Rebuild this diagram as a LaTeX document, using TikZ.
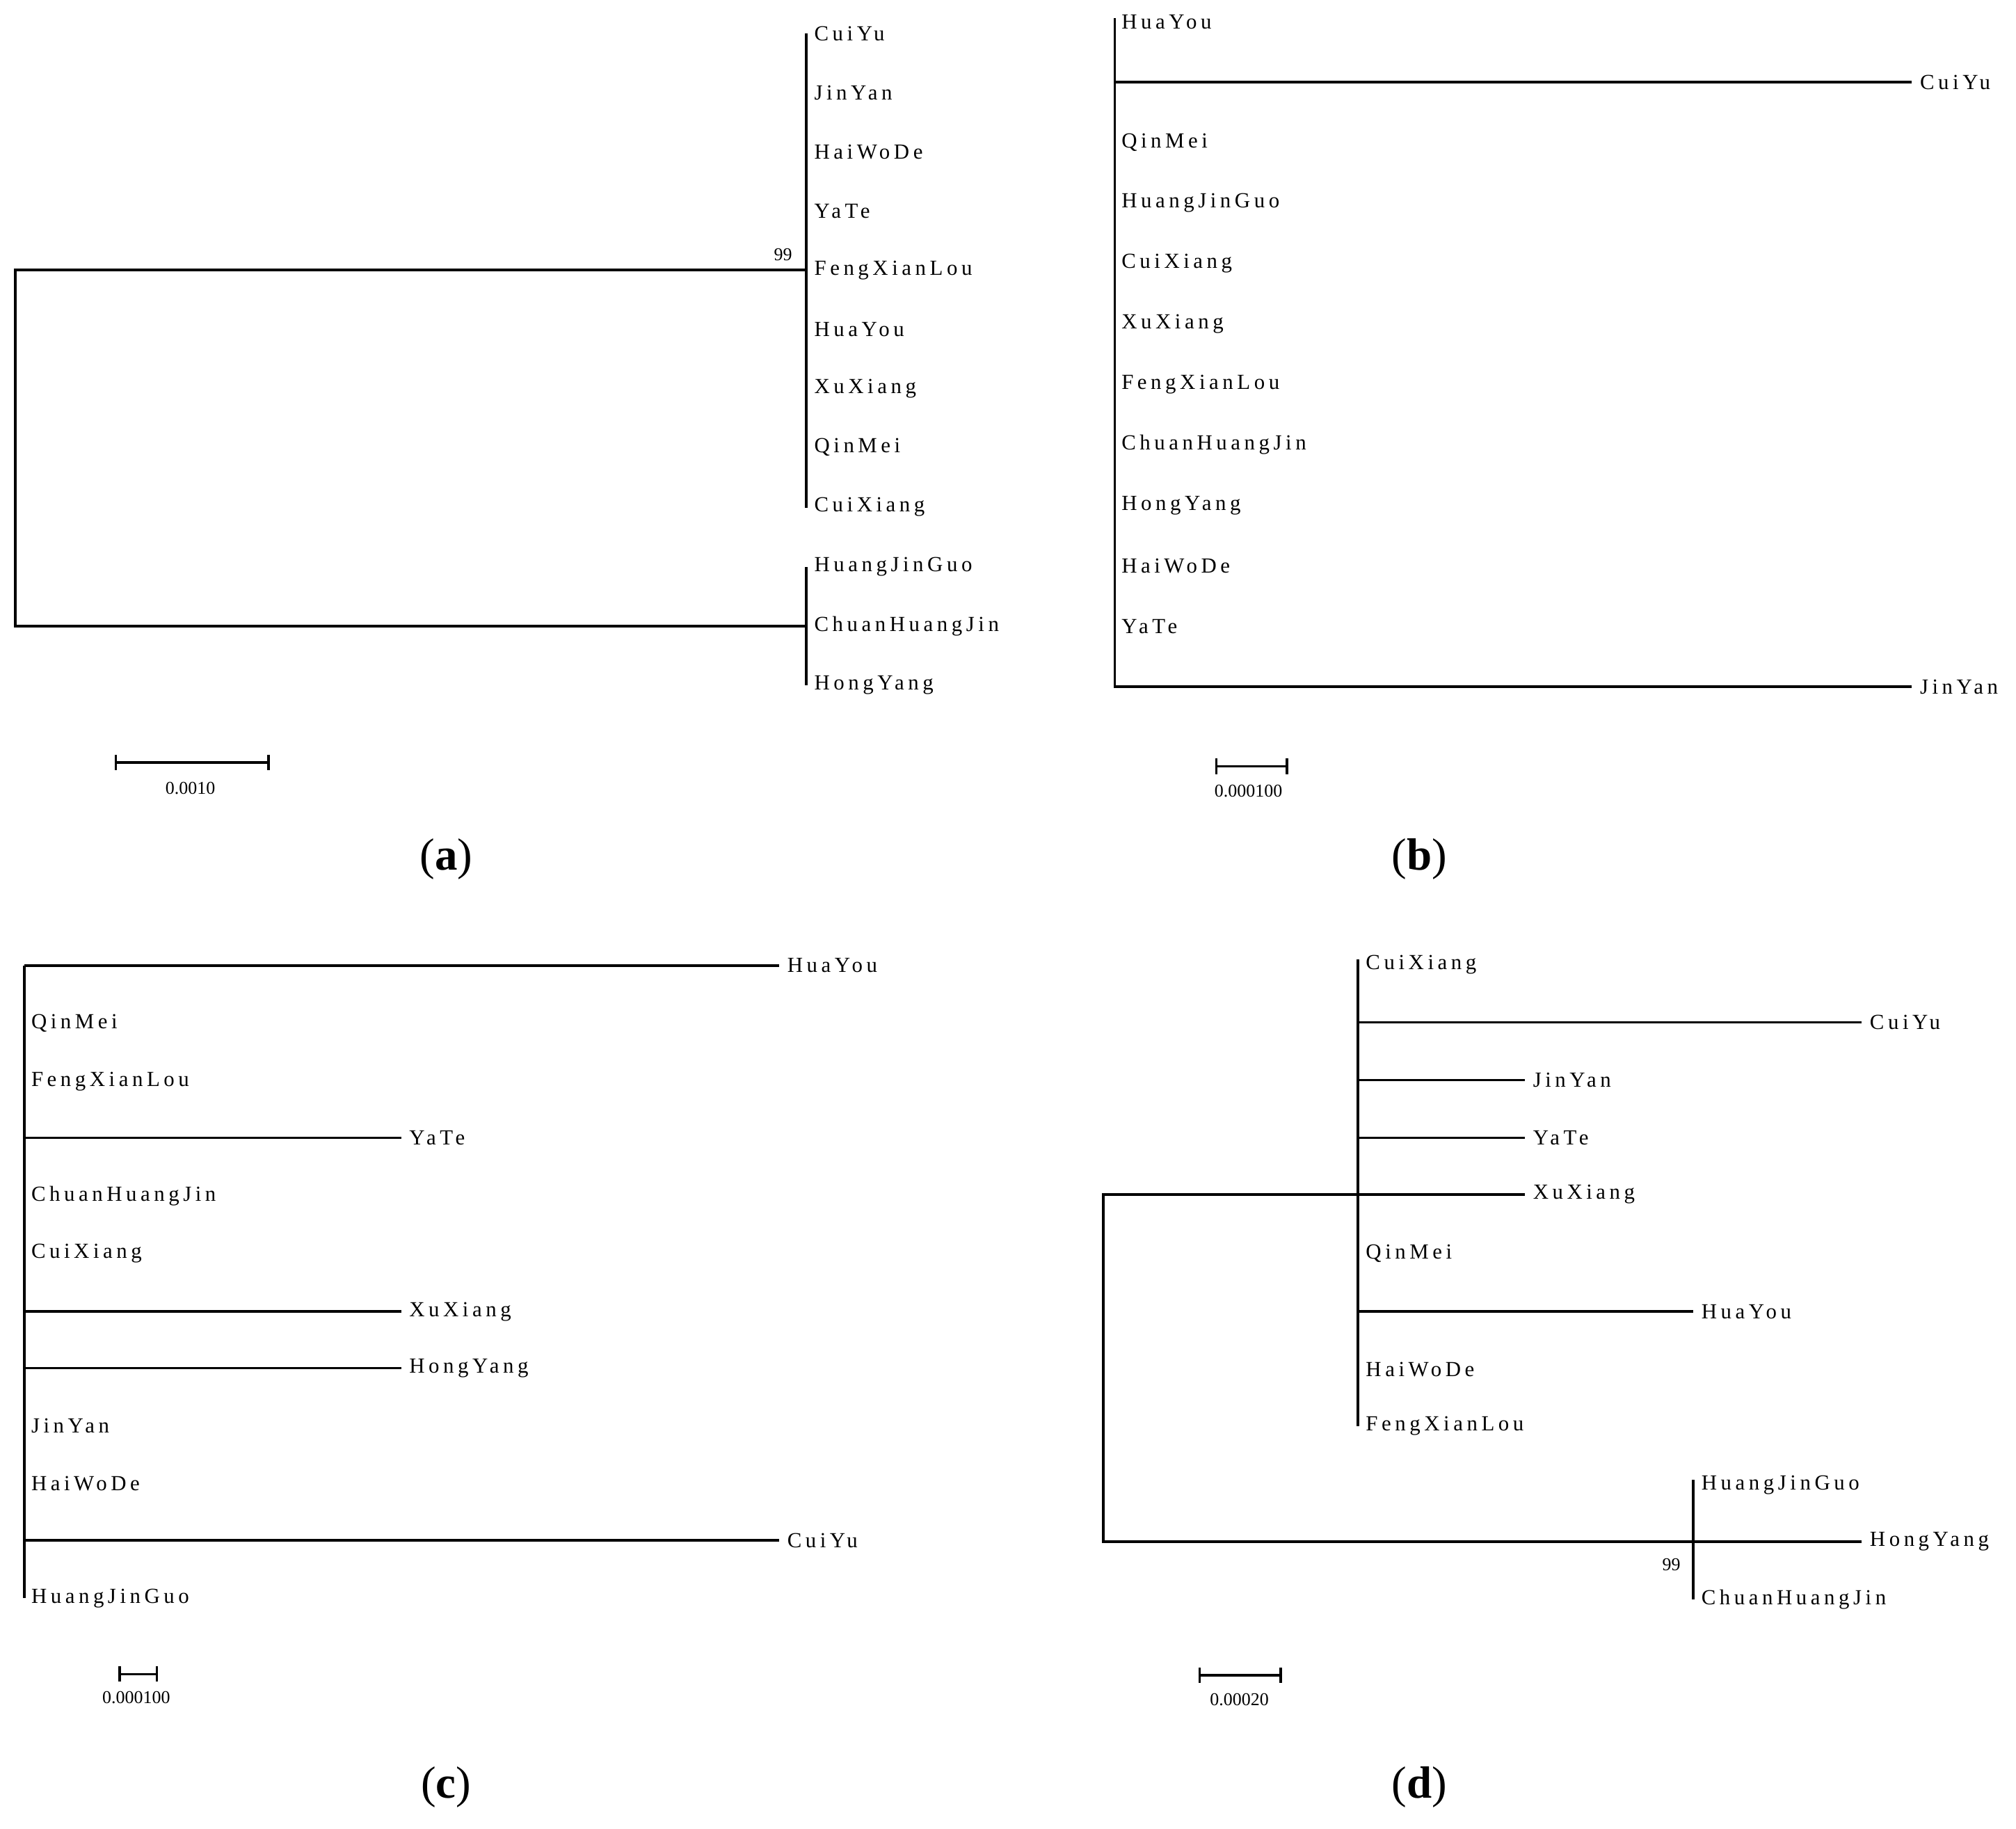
\documentclass[tikz,border=0pt]{standalone}
\usepackage{fontspec}
\setmainfont{Liberation Serif}
\newfontfamily\labfont[LetterSpace=18]{Liberation Serif}
\begin{document}
\begin{tikzpicture}[x=0.02cm,y=-0.02cm,
  br/.style={line width=1.1pt},
  lab/.style={anchor=west,inner sep=0pt,font=\labfont\fontsize{9.5}{10}\selectfont},
  num/.style={inner sep=0pt,font=\fontsize{8}{9}\selectfont},
  pl/.style={inner sep=0pt,font=\fontsize{20}{22}\selectfont}]
\useasboundingbox (0,0) rectangle (1568,1422);
\newcommand\lf[3]{\node[lab] at (#1,#2) {#3};}
% (a)
\draw[br] (627,26) -- (627,395);
\draw[br] (627,441) -- (627,533);
\draw[br] (627,210) -- (12,210) -- (12,487) -- (627,487);
\lf{633}{26}{CuiYu}\lf{633}{72}{JinYan}\lf{633}{118}{HaiWoDe}\lf{633}{164}{YaTe}
\lf{633}{210}{FengXianLou}\lf{633}{256}{HuaYou}\lf{633}{302}{XuXiang}
\lf{633}{348}{QinMei}\lf{633}{394}{CuiXiang}\lf{633}{441}{HuangJinGuo}
\lf{633}{487}{ChuanHuangJin}\lf{633}{533}{HongYang}
\node[num] at (609,198) {99};
\draw[br] (90,593) -- (209,593); \draw[br] (90,587)--(90,599); \draw[br] (209,587)--(209,599);
\node[num] at (148,613) {0.0010};
\node[pl] at (347,668) {(\textbf{a})};
% (b)
\draw[br] (867,14) -- (867,534) -- (1487,534);
\draw[br] (867,64) -- (1487,64);
\lf{872}{17}{HuaYou}\lf{872}{111}{QinMei}\lf{872}{158}{HuangJinGuo}\lf{872}{205}{CuiXiang}
\lf{872}{252}{XuXiang}\lf{872}{299}{FengXianLou}\lf{872}{346}{ChuanHuangJin}
\lf{872}{393}{HongYang}\lf{872}{440}{HaiWoDe}\lf{872}{487}{YaTe}
\lf{1493}{64}{CuiYu}\lf{1493}{534}{JinYan}
\draw[br] (946,596) -- (1001,596); \draw[br] (946,590)--(946,602); \draw[br] (1001,590)--(1001,602);
\node[num] at (971,615) {0.000100};
\node[pl] at (1104,668) {(\textbf{b})};
% (c)
\draw[br] (19,751) -- (19,1243);
\draw[br] (19,751) -- (606,751);
\draw[br] (19,885) -- (312,885);
\draw[br] (19,1020) -- (312,1020);
\draw[br] (19,1064) -- (312,1064);
\draw[br] (19,1198) -- (606,1198);
\lf{612}{751}{HuaYou}\lf{24}{796}{QinMei}\lf{24}{841}{FengXianLou}\lf{318}{885}{YaTe}
\lf{24}{930}{ChuanHuangJin}\lf{24}{975}{CuiXiang}\lf{318}{1020}{XuXiang}
\lf{318}{1064}{HongYang}\lf{24}{1109}{JinYan}\lf{24}{1154}{HaiWoDe}
\lf{612}{1198}{CuiYu}\lf{24}{1243}{HuangJinGuo}
\draw[br] (93,1302) -- (122,1302); \draw[br] (93,1296)--(93,1308); \draw[br] (122,1296)--(122,1308);
\node[num] at (106,1320) {0.000100};
\node[pl] at (347,1390) {(\textbf{c})};
% (d)
\draw[br] (1056,746) -- (1056,1109);
\draw[br] (1056,795) -- (1448,795);
\draw[br] (1056,840) -- (1186,840);
\draw[br] (1056,885) -- (1186,885);
\draw[br] (1056,929) -- (1186,929);
\draw[br] (1056,1020) -- (1317,1020);
\draw[br] (1056,929) -- (858,929) -- (858,1199) -- (1317,1199);
\draw[br] (1317,1151) -- (1317,1244);
\draw[br] (1317,1199) -- (1448,1199);
\lf{1062}{750}{CuiXiang}\lf{1454}{795}{CuiYu}\lf{1192}{840}{JinYan}\lf{1192}{885}{YaTe}
\lf{1192}{929}{XuXiang}\lf{1062}{975}{QinMei}\lf{1323}{1020}{HuaYou}
\lf{1062}{1065}{HaiWoDe}\lf{1062}{1109}{FengXianLou}
\lf{1323}{1155}{HuangJinGuo}\lf{1454}{1199}{HongYang}\lf{1323}{1244}{ChuanHuangJin}
\node[num] at (1300,1217) {99};
\draw[br] (933,1303) -- (996,1303); \draw[br] (933,1297)--(933,1309); \draw[br] (996,1297)--(996,1309);
\node[num] at (964,1322) {0.00020};
\node[pl] at (1104,1390) {(\textbf{d})};
\end{tikzpicture}
\end{document}
